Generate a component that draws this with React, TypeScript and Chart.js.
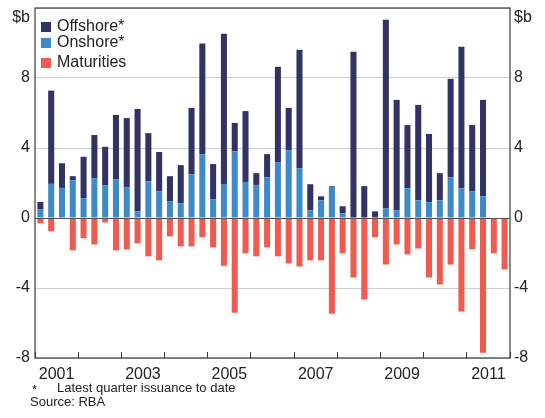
import React, { useEffect, useRef } from 'react';
import { Chart, registerables } from 'chart.js';
Chart.register(...registerables);

const years = ['2001', '2002', '2003', '2004', '2005', '2006', '2007', '2008', '2009', '2010', '2011'];
const quarters = years.flatMap((y) => ['Q1', 'Q2', 'Q3', 'Q4'].map((q) => `${y} ${q}`));

const onshore = [0.5, 1.95, 1.72, 2.16, 1.13, 2.28, 1.87, 2.22, 1.76, 0.38, 2.1, 1.53, 0.96, 0.84, 2.5, 3.65, 1.07, 1.95, 3.82, 2.06, 1.89, 2.33, 3.19, 3.88, 2.85, 0.44, 1.01, 1.78, 0.27, 0, 0, 0, 0.56, 0.44, 1.7, 1.01, 0.9, 1.01, 2.33, 1.7, 1.53, 1.24, 0, 0];
const offshore = [0.42, 5.33, 1.41, 0.23, 2.37, 2.46, 2.2, 3.67, 3.95, 5.85, 2.75, 2.24, 1.43, 2.18, 3.79, 6.32, 2.01, 8.58, 1.61, 4.05, 0.67, 1.32, 5.45, 2.41, 6.76, 1.49, 0.23, 0.04, 0.4, 9.5, 1.82, 0.38, 10.77, 6.31, 3.61, 5.45, 3.9, 1.55, 5.62, 8.08, 3.78, 5.51, 0, 0];
const maturities = [-0.3, -0.76, 0, -1.85, -1.16, -1.51, -0.25, -1.85, -1.79, -1.45, -2.19, -2.42, -1.05, -1.62, -1.62, -1.1, -1.68, -2.73, -5.41, -2.02, -2.19, -1.68, -2.19, -2.6, -2.77, -2.42, -2.42, -5.47, -2.02, -3.4, -4.66, -1.1, -2.66, -1.51, -2.08, -1.74, -3.4, -3.8, -2.66, -5.35, -1.79, -7.7, -2.02, -2.94];

const yMin = -8;
const yMax = 12;
const yStep = 4;
const unitLabel = '$b';

const COLORS = { offshore: '#323263', onshore: '#3d89c9', maturities: '#f15a4f' };
const FONT = '"Liberation Sans", Arial, sans-serif';
const TEXT = '#222222';

const legendItems = [
  { label: 'Offshore*', color: COLORS.offshore },
  { label: 'Onshore*', color: COLORS.onshore },
  { label: 'Maturities', color: COLORS.maturities },
];
const footnote = 'Latest quarter issuance to date';
const source = 'Source: RBA';

const decor = {
  id: 'decor',
  afterDatasetsDraw(chart: any) {
    const { ctx, chartArea: a, scales } = chart;
    const y0 = Math.round(scales.y.getPixelForValue(0)) + 0.5;
    ctx.save();
    ctx.strokeStyle = '#505050';
    ctx.lineWidth = 1;
    ctx.beginPath();
    ctx.moveTo(a.left, y0);
    ctx.lineTo(a.right, y0);
    ctx.stroke();
    ctx.strokeStyle = '#3a3a3a';
    ctx.lineWidth = 1.2;
    ctx.strokeRect(a.left, a.top, a.right - a.left, a.bottom - a.top);
    ctx.restore();
  },
  afterDraw(chart: any) {
    const { ctx, chartArea: a } = chart;
    ctx.save();
    ctx.fillStyle = TEXT;
    ctx.font = `16px ${FONT}`;
    ctx.textBaseline = 'middle';
    ctx.textAlign = 'right';
    ctx.fillText(unitLabel, a.left - 5, a.top + 10);
    ctx.textAlign = 'left';
    ctx.fillText(unitLabel, a.right + 4, a.top + 10);
    const rows = [19, 35, 55];
    legendItems.forEach((it, i) => {
      ctx.fillStyle = it.color;
      ctx.fillRect(a.left + 6, a.top + rows[i] - 5, 10, 10);
      ctx.fillStyle = TEXT;
      ctx.fillText(it.label, a.left + 22, a.top + rows[i]);
    });
    ctx.font = `13px ${FONT}`;
    ctx.fillText('*', 32, 390);
    ctx.fillText(footnote, 57, 388);
    ctx.fillText(source, 30, 402);
    ctx.restore();
  },
};

const fitY = (s: any) => {
  s.width = 35;
  s.paddingTop = 0;
  s.paddingBottom = 0;
};

export default function App() {
  const ref = useRef<HTMLCanvasElement>(null);
  useEffect(() => {
    if (!ref.current) return;
    const chart = new Chart(ref.current, {
      type: 'bar',
      data: {
        labels: quarters,
        datasets: [
          { label: 'Onshore*', data: onshore, backgroundColor: COLORS.onshore, xAxisID: 'x', yAxisID: 'y' },
          { label: 'Offshore*', data: offshore, backgroundColor: COLORS.offshore, xAxisID: 'x', yAxisID: 'y' },
          { label: 'Maturities', data: maturities, backgroundColor: COLORS.maturities, xAxisID: 'x', yAxisID: 'y' },
        ],
      },
      options: {
        responsive: false,
        animation: false,
        categoryPercentage: 1,
        barPercentage: 0.56,
        layout: { padding: { top: 8, bottom: 36, left: 0, right: 0 } },
        plugins: { legend: { display: false }, tooltip: { enabled: false } },
        scales: {
          x: { type: 'category', stacked: true, display: false, offset: true },
          xYear: {
            type: 'category',
            labels: years,
            position: 'bottom',
            offset: true,
            grid: { offset: true, drawOnChartArea: false, drawTicks: true, tickLength: -6, color: '#3a3a3a', lineWidth: 1 },
            border: { display: false },
            ticks: {
              autoSkip: false,
              maxRotation: 0,
              padding: 13,
              color: TEXT,
              font: { family: FONT, size: 16 },
              callback: (_v: any, i: number) => (Number(years[i]) % 2 === 1 ? years[i] : ''),
            },
            afterFit: (s: any) => { s.height = 24; },
          },
          y: {
            stacked: true,
            min: yMin,
            max: yMax,
            position: 'left',
            border: { display: false },
            grid: {
              drawTicks: false,
              color: (c: any) => (c.tick.value === 0 ? 'rgba(0,0,0,0)' : '#cdcdcd'),
              lineWidth: 1,
            },
            ticks: {
              stepSize: yStep,
              padding: 5,
              color: TEXT,
              font: { family: FONT, size: 16 },
              callback: (v: any) => (v === yMax ? '' : String(v)),
            },
            afterFit: fitY,
          },
          y2: {
            min: yMin,
            max: yMax,
            position: 'right',
            border: { display: false },
            grid: { drawOnChartArea: false, drawTicks: false },
            ticks: {
              stepSize: yStep,
              padding: 4,
              color: TEXT,
              font: { family: FONT, size: 16 },
              callback: (v: any) => (v === yMax ? '' : String(v)),
            },
            afterFit: fitY,
          },
        },
      },
      plugins: [decor],
    } as any);
    return () => chart.destroy();
  }, []);
  return (
    <div style={{ position: 'absolute', left: 0, top: 0, width: 545, height: 418, background: '#fff' }}>
      <canvas ref={ref} width={545} height={418} />
    </div>
  );
}
